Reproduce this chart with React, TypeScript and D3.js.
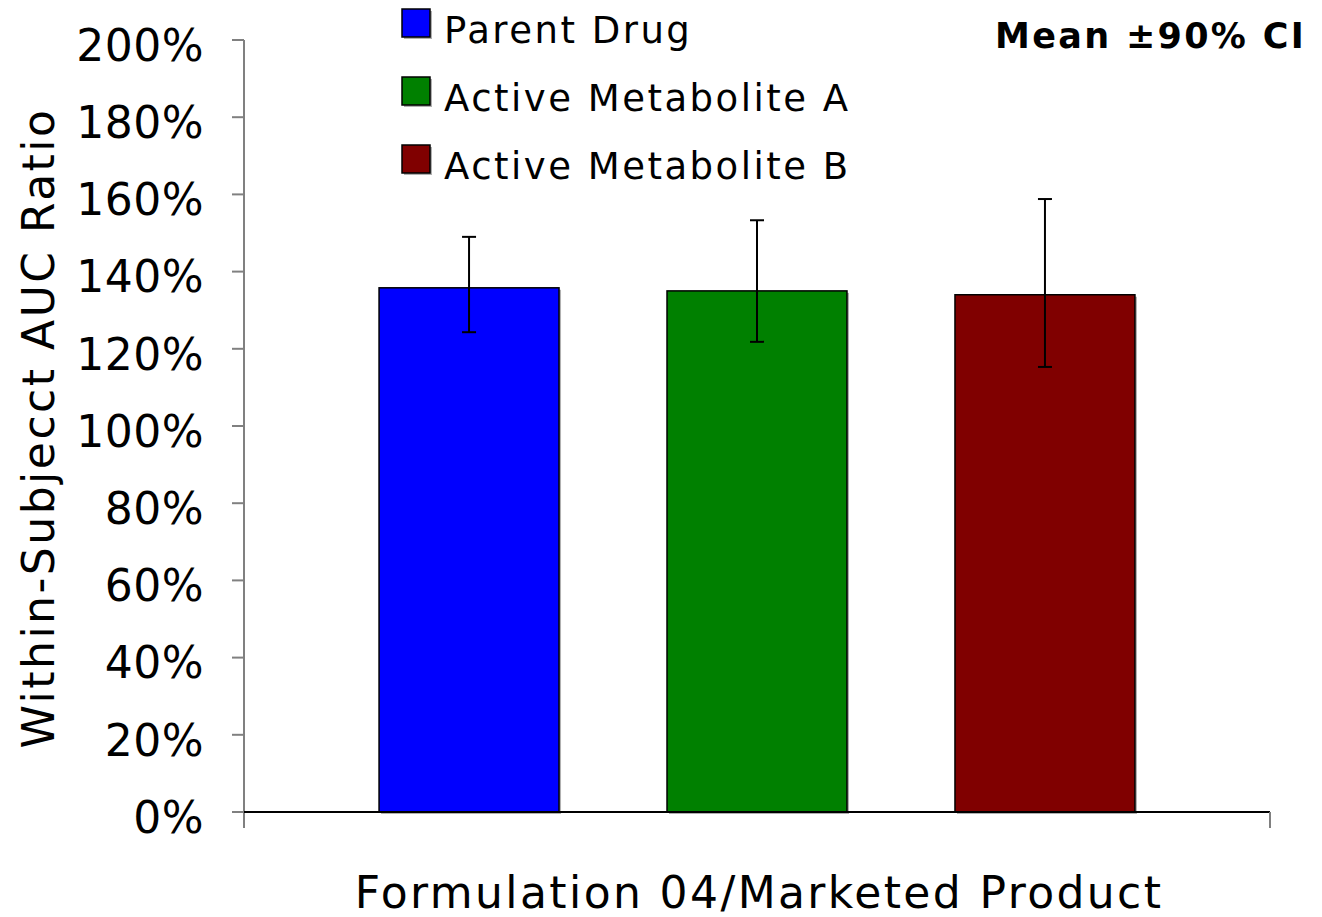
import React from "react";
import * as d3 from "d3";

const series = ["Parent Drug", "Active Metabolite A", "Active Metabolite B"];
const colors = ["#0000ff", "#008000", "#800000"];
const means = [1.358, 1.35, 1.34];
const lower = [1.243, 1.218, 1.153];
const upper = [1.49, 1.533, 1.588];
const yTicks = [0, 0.2, 0.4, 0.6, 0.8, 1.0, 1.2, 1.4, 1.6, 1.8, 2.0];
const xTitle = "Formulation 04/Marketed Product";
const yTitle = "Within-Subjecct AUC Ratio";
const note = "Mean \u00b190% CI";

const W = 1322;
const H = 917;
const left = 244;
const right = 1270;
const top = 40;
const bottom = 812;
const font = "'DejaVu Sans', Verdana, sans-serif";

export default function App() {
  const x = d3.scaleBand<string>().domain(series).range([left, right]).paddingInner(0.375).paddingOuter(0.469);
  const y = d3.scaleLinear().domain([0, 2]).range([bottom, top]);
  const fmt = d3.format(".0%");
  const bw = x.bandwidth();
  return (
    <div style={{ position: "absolute", left: 0, top: 0 }}>
      <svg width={W} height={H} style={{ display: "block", background: "#fff" }}>
        {/* y axis */}
        <line x1={left} x2={left} y1={top} y2={bottom + 16} stroke="#808080" strokeWidth={2} />
        {yTicks.map((t) => (
          <g key={t}>
            <line x1={left - 12} x2={left} y1={y(t)} y2={y(t)} stroke="#808080" strokeWidth={2} />
            <text x={204} y={y(t) + 5} dy="0.36em" textAnchor="end" fontFamily={font} fontSize={44} fill="#000" letterSpacing={0.5}>
              {fmt(t)}
            </text>
          </g>
        ))}
        {/* bars */}
        {series.map((s, i) => (
          <g key={s}>
            <rect x={x(s)! + 2} y={y(means[i]) + 2} width={bw} height={bottom - y(means[i])} fill="#b0b0b0" />
            <rect x={x(s)!} y={y(means[i])} width={bw} height={bottom - y(means[i])} fill={colors[i]} stroke="#000" strokeWidth={1.5} />
            <line x1={x(s)! + bw / 2} x2={x(s)! + bw / 2} y1={y(upper[i])} y2={y(lower[i])} stroke="#000" strokeWidth={2} />
            <line x1={x(s)! + bw / 2 - 7} x2={x(s)! + bw / 2 + 7} y1={y(upper[i])} y2={y(upper[i])} stroke="#000" strokeWidth={2} />
            <line x1={x(s)! + bw / 2 - 7} x2={x(s)! + bw / 2 + 7} y1={y(lower[i])} y2={y(lower[i])} stroke="#000" strokeWidth={2} />
          </g>
        ))}
        {/* x axis */}
        <line x1={left} x2={right} y1={bottom} y2={bottom} stroke="#000" strokeWidth={2} />
        <line x1={right} x2={right} y1={bottom} y2={bottom + 16} stroke="#808080" strokeWidth={2} />
        <text x={759} y={908} textAnchor="middle" fontFamily={font} fontSize={44} fill="#000" letterSpacing={2.4}>
          {xTitle}
        </text>
        <text transform={`translate(54, 428) rotate(-90)`} textAnchor="middle" fontFamily={font} fontSize={44} fill="#000" letterSpacing={2.5}>
          {yTitle}
        </text>
        {/* legend */}
        {series.map((s, i) => (
          <g key={"lg" + s} transform={`translate(402, ${9 + i * 68})`}>
            <rect x={2} y={2} width={28} height={28} fill="#b0b0b0" />
            <rect x={0} y={0} width={28} height={28} fill={colors[i]} stroke="#000" strokeWidth={1.5} />
            <text x={42} y={34} fontFamily={font} fontSize={37} fill="#000" letterSpacing={2.5}>
              {s}
            </text>
          </g>
        ))}
        <text x={1306} y={48} textAnchor="end" fontFamily={font} fontSize={35} fontWeight="bold" fill="#000" letterSpacing={2.3}>
          {note}
        </text>
      </svg>
    </div>
  );
}
